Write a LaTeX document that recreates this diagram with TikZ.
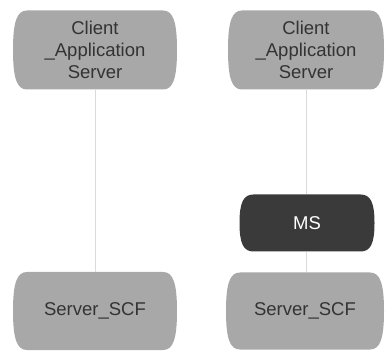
\documentclass[tikz,border=0pt]{standalone}
\usepackage{fontspec}
\setmainfont{Liberation Sans}
\usetikzlibrary{calc}
\definecolor{boxgray}{HTML}{A8A8A8}
\definecolor{boxdark}{HTML}{3A3A3A}
\definecolor{linegray}{HTML}{DADADA}
\definecolor{txtgray}{HTML}{333333}
\newcommand{\pillfill}[3]{% colour, corner r, k
  \path (path picture bounding box.north west) coordinate (pNW)
        (path picture bounding box.north east) coordinate (pNE)
        (path picture bounding box.south west) coordinate (pSW)
        (path picture bounding box.south east) coordinate (pSE)
        (path picture bounding box.east) coordinate (pE)
        (path picture bounding box.west) coordinate (pW);
  \coordinate (pa) at ([xshift=#2]pNW);
  \coordinate (pb) at ([xshift=-#2]pNE);
  \coordinate (pc) at ([xshift=-#2]pSE);
  \coordinate (pd) at ([xshift=#2]pSW);
  \fill[#1] (pa) -- (pb)
    .. controls ($(pb)!#3!(pNE)$) and ($(pE)!#3!(pNE)$) .. (pE)
    .. controls ($(pE)!#3!(pSE)$) and ($(pc)!#3!(pSE)$) .. (pc)
    -- (pd)
    .. controls ($(pd)!#3!(pSW)$) and ($(pW)!#3!(pSW)$) .. (pW)
    .. controls ($(pW)!#3!(pNW)$) and ($(pa)!#3!(pNW)$) .. (pa) -- cycle;
}
\tikzset{
  lightbox/.style={rectangle, draw=none, path picture={\pillfill{boxgray}{14pt}{0.72}},
    text=txtgray, font=\fontsize{18.5}{22}\selectfont, align=center, inner sep=0pt},
  darkbox/.style={rectangle, draw=none, path picture={\pillfill{boxdark}{14pt}{0.72}},
    text=white, font=\fontsize{18.5}{22}\selectfont, align=center, inner sep=0pt},
  conn/.style={draw=linegray, line width=0.8pt}
}
\begin{document}
\begin{tikzpicture}[x=1pt,y=-1pt]
\useasboundingbox (0,0) rectangle (385,352);
\node[lightbox, minimum width=164pt, minimum height=79pt] (cl) at (95,50) {Client\\\_Application\\Server};
\node[lightbox, minimum width=156pt, minimum height=79pt] (cr) at (306,50) {Client\\\_Application\\Server};
\node[darkbox, minimum width=135pt, minimum height=57pt] (ms) at (307,223) {MS};
\node[lightbox, minimum width=164pt, minimum height=78pt] (sl) at (95,311) {Server\_SCF};
\node[lightbox, minimum width=158pt, minimum height=77pt] (sr) at (305,311) {Server\_SCF};
\draw[conn] (cl) -- (sl);
\draw[conn] (cr.south) -- (cr.south |- ms.north);
\draw[conn] (ms.south -| cr.south) -- (sr.north -| cr.south);
\end{tikzpicture}
\end{document}
